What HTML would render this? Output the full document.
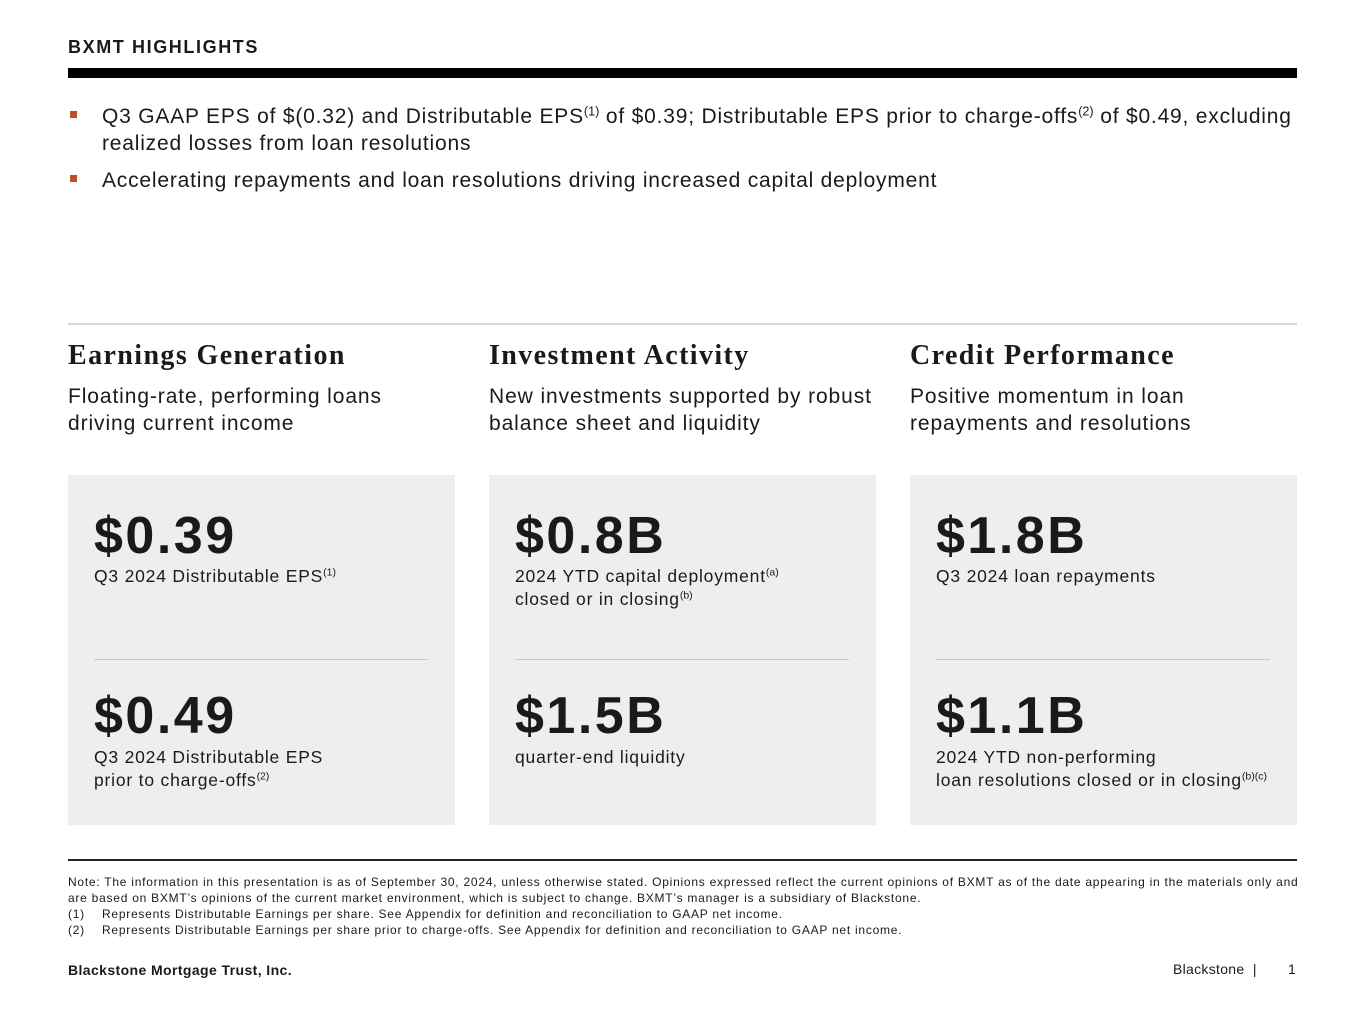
<!DOCTYPE html>
<html><head><meta charset="utf-8"><style>
*{margin:0;padding:0;box-sizing:border-box}
body{width:1365px;height:1024px;background:#fff;position:relative;font-family:"Liberation Sans","DejaVu Sans",sans-serif;color:#1a1a1a;overflow:hidden}
.a{position:absolute;white-space:nowrap}
sup{font-size:60%;vertical-align:0.6em;line-height:0;letter-spacing:0}
.bullet{position:absolute;width:7px;height:7px;background:#b5532a}
.bt{font-size:21px;line-height:27px;letter-spacing:0.8px}
.h{font-family:"Liberation Serif",serif;font-weight:bold;font-size:28px;letter-spacing:1.4px}
.sub{font-size:21px;line-height:27px;letter-spacing:0.9px}
.card{position:absolute;top:475px;width:387px;height:350px;background:#eeeeee}
.big{position:absolute;left:26px;font-size:52px;font-weight:bold;line-height:1;letter-spacing:2.5px}
.lbl{position:absolute;left:26px;font-size:17.5px;line-height:23px;white-space:nowrap;letter-spacing:0.8px}
.div{position:absolute;left:26px;width:334px;top:184px;height:1px;background:#c8c8c8}
.note{font-size:12px;line-height:16px;letter-spacing:0.75px}
</style></head><body>
<div class="a" style="left:68px;top:37px;font-size:18px;font-weight:bold;letter-spacing:1.6px">BXMT HIGHLIGHTS</div>
<div class="a" style="left:68px;top:68px;width:1229px;height:10px;background:#000"></div>

<div class="bullet" style="left:70px;top:111px"></div>
<div class="a bt" style="left:102px;top:103px">Q3 GAAP EPS of $(0.32) and Distributable EPS<sup>(1)</sup> of $0.39; Distributable EPS prior to charge-offs<sup>(2)</sup> of $0.49, excluding<br>realized losses from loan resolutions</div>
<div class="bullet" style="left:70px;top:175px"></div>
<div class="a bt" style="left:102px;top:167px">Accelerating repayments and loan resolutions driving increased capital deployment</div>

<div class="a" style="left:68px;top:323px;width:1229px;height:2px;background:#d8d8d8"></div>

<div class="a h" style="left:68px;top:340px">Earnings Generation</div>
<div class="a h" style="left:489px;top:340px">Investment Activity</div>
<div class="a h" style="left:910px;top:340px">Credit Performance</div>
<div class="a sub" style="left:68px;top:383px">Floating-rate, performing loans<br>driving current income</div>
<div class="a sub" style="left:489px;top:383px">New investments supported by robust<br>balance sheet and liquidity</div>
<div class="a sub" style="left:910px;top:383px">Positive momentum in loan<br>repayments and resolutions</div>

<div class="card" style="left:68px">
 <div class="big" style="top:35px">$0.39</div>
 <div class="lbl" style="top:90px">Q3 2024 Distributable EPS<sup>(1)</sup></div>
 <div class="div"></div>
 <div class="big" style="top:215px">$0.49</div>
 <div class="lbl" style="top:271px">Q3 2024 Distributable EPS<br>prior to charge-offs<sup>(2)</sup></div>
</div>
<div class="card" style="left:489px">
 <div class="big" style="top:35px">$0.8B</div>
 <div class="lbl" style="top:90px">2024 YTD capital deployment<sup>(a)</sup><br>closed or in closing<sup>(b)</sup></div>
 <div class="div"></div>
 <div class="big" style="top:215px">$1.5B</div>
 <div class="lbl" style="top:271px">quarter-end liquidity</div>
</div>
<div class="card" style="left:910px">
 <div class="big" style="top:35px">$1.8B</div>
 <div class="lbl" style="top:90px">Q3 2024 loan repayments</div>
 <div class="div"></div>
 <div class="big" style="top:215px">$1.1B</div>
 <div class="lbl" style="top:271px">2024 YTD non-performing<br>loan resolutions closed or in closing<sup>(b)(c)</sup></div>
</div>

<div class="a" style="left:68px;top:859px;width:1229px;height:2px;background:#222"></div>
<div class="a note" style="left:68px;top:874px">Note: The information in this presentation is as of September 30, 2024, unless otherwise stated. Opinions expressed reflect the current opinions of BXMT as of the date appearing in the materials only and<br>are based on BXMT’s opinions of the current market environment, which is subject to change. BXMT’s manager is a subsidiary of Blackstone.</div>
<div class="a note" style="left:68px;top:906px">(1)</div>
<div class="a note" style="left:102px;top:906px">Represents Distributable Earnings per share. See Appendix for definition and reconciliation to GAAP net income.</div>
<div class="a note" style="left:68px;top:922px">(2)</div>
<div class="a note" style="left:102px;top:922px">Represents Distributable Earnings per share prior to charge-offs. See Appendix for definition and reconciliation to GAAP net income.</div>

<div class="a" style="left:68px;top:962px;font-size:14px;font-weight:bold;letter-spacing:0.4px">Blackstone Mortgage Trust, Inc.</div>
<div class="a" style="left:1173px;top:961px;font-size:14px;letter-spacing:0.3px">Blackstone&nbsp;&nbsp;|</div>
<div class="a" style="left:1288px;top:961px;font-size:14px">1</div>
</body></html>
